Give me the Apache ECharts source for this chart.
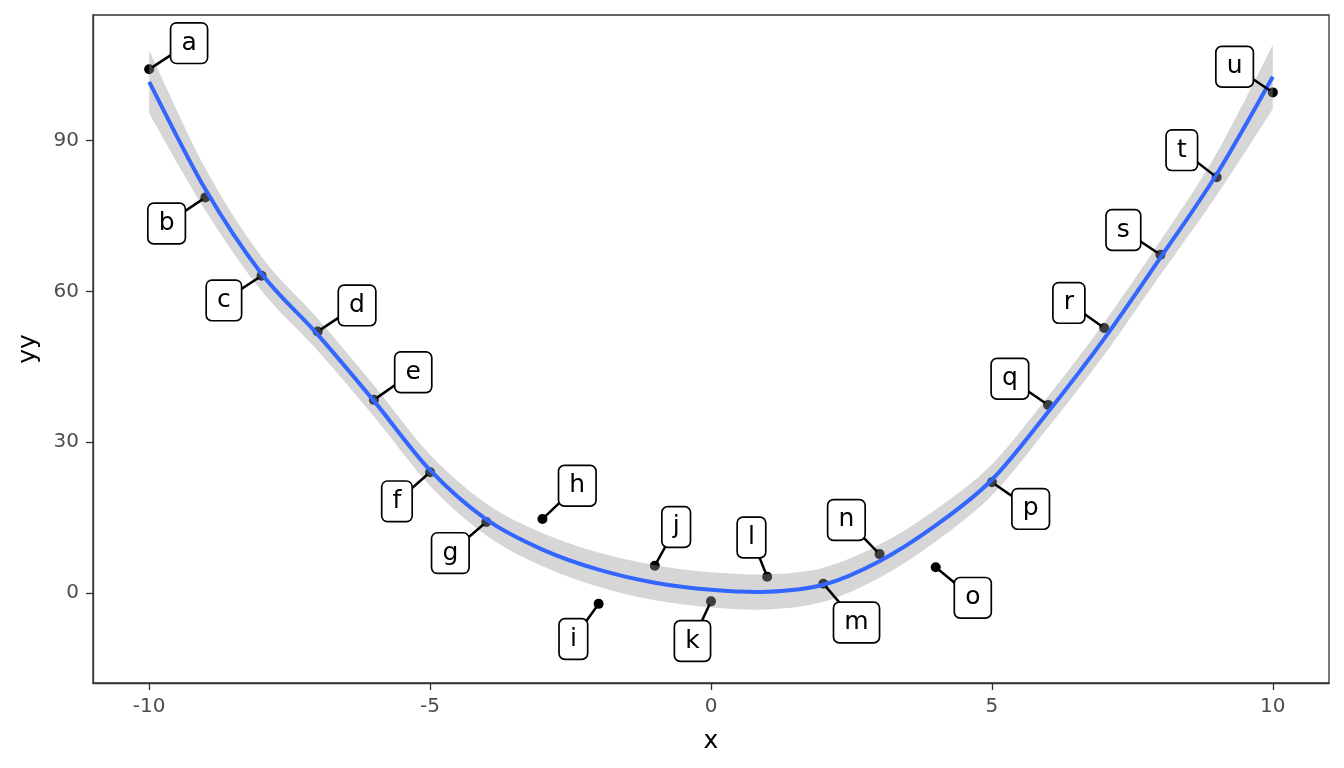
<!DOCTYPE html>
<html>
<head>
<meta charset="utf-8">
<script src="https://cdn.jsdelivr.net/npm/echarts@6/dist/echarts.min.js"></script>
<style>
html,body{margin:0;padding:0;background:#fff;}
#c{width:1344px;height:768px;}
</style>
</head>
<body>
<div id="c"></div>
<script>
// ---- data ----
const pointX = [-10,-9,-8,-7,-6,-5,-4,-3,-2,-1,0,1,2,3,4,5,6,7,8,9,10];
const pointY = [104.2,78.7,63.1,52.0,38.4,24.0,14.1,14.7,-2.2,5.4,-1.7,3.2,1.8,7.7,5.1,22.0,37.4,52.7,67.3,82.7,99.6];
const labelNames = ['a','b','c','d','e','f','g','h','i','j','k','l','m','n','o','p','q','r','s','t','u'];
// label box centres (data units), as placed in the reference
const labelX = [-9.29,-9.69,-8.67,-6.30,-5.30,-5.59,-4.64,-2.38,-2.45,-0.62,-0.33,0.72,2.59,2.41,4.66,5.69,5.32,6.37,7.34,8.38,9.32];
const labelY = [109.4,73.5,58.2,57.2,43.9,18.2,7.9,21.3,-9.2,13.1,-9.6,11.0,-5.9,14.5,-1.0,16.7,42.6,57.7,72.2,88.1,104.7];
// smoothed fit and its confidence band
const fitY     = [101.7,80.3,63.5,51.4,38.2,24.4,14.6,8.6,4.6,2.0,0.6,0.2,1.6,6.3,13.4,22.5,36.0,50.6,66.7,83.3,102.7];
const bandLow  = [95.4,76.1,60.1,48.2,35.1,21.3,11.4,5.3,1.2,-1.5,-2.9,-3.3,-1.8,3.0,10.2,19.4,32.9,47.4,63.3,79.1,96.3];
const bandHigh = [108.0,84.5,66.9,54.6,41.3,27.5,17.8,11.9,8.0,5.5,4.1,3.7,5.0,9.6,16.6,25.6,39.1,53.8,70.1,87.5,109.1];
const xTicks = [-10,-5,0,5,10];
const yTicks = [0,30,60,90];

const FONT = 'DejaVu Sans';
const chart = echarts.init(document.getElementById('c'), null, {renderer:'canvas'});

const pts = pointX.map((x,i)=>[x, pointY[i]]);
const lab = pointX.map((x,i)=>[labelX[i], labelY[i], x, pointY[i], i]);

// Catmull-Rom -> cubic bezier segments (pixel space)
function crSegs(p){
  let s='';
  for(let i=0;i<p.length-1;i++){
    const p0=p[Math.max(i-1,0)], p1=p[i], p2=p[i+1], p3=p[Math.min(i+2,p.length-1)];
    const c1=[p1[0]+(p2[0]-p0[0])/6, p1[1]+(p2[1]-p0[1])/6];
    const c2=[p2[0]-(p3[0]-p1[0])/6, p2[1]-(p3[1]-p1[1])/6];
    s+=' C'+c1[0]+' '+c1[1]+' '+c2[0]+' '+c2[1]+' '+p2[0]+' '+p2[1];
  }
  return s;
}

chart.setOption({
  animation:false,
  backgroundColor:'#fff',
  grid:{left:93, right:15, top:15, bottom:85, show:true, borderColor:'#333333', borderWidth:1.3, backgroundColor:'transparent'},
  xAxis:{
    type:'value', min:-11, max:11,
    name:'x', nameLocation:'middle', nameGap:46,
    nameTextStyle:{fontFamily:FONT, fontSize:25, color:'#000'},
    axisLine:{show:true, onZero:false, lineStyle:{color:'#333333', width:1.3}},
    axisTick:{show:true, length:7, lineStyle:{color:'#333333', width:1.3}, customValues:xTicks},
    axisLabel:{fontFamily:FONT, fontSize:20, color:'#4D4D4D', margin:14, customValues:xTicks},
    splitLine:{show:false}
  },
  yAxis:{
    type:'value', min:-17.95, max:115,
    name:'yy', nameLocation:'middle', nameGap:52, nameRotate:90,
    nameTextStyle:{fontFamily:FONT, fontSize:25, color:'#000'},
    axisLine:{show:true, onZero:false, lineStyle:{color:'#333333', width:1.3}},
    axisTick:{show:true, length:7, lineStyle:{color:'#333333', width:1.3}, customValues:yTicks},
    axisLabel:{fontFamily:FONT, fontSize:20, color:'#4D4D4D', margin:14, customValues:yTicks},
    splitLine:{show:false}
  },
  series:[
    {type:'scatter', data:pts, symbolSize:10, itemStyle:{color:'#000', opacity:1}, z:2, silent:true},
    {type:'custom', data:[[0,0]], z:3, silent:true,
     renderItem:function(params, api){
       const up = pointX.map((x,i)=>api.coord([x, bandHigh[i]]));
       const lo = pointX.map((x,i)=>api.coord([x, bandLow[i]])).reverse();
       const d = 'M'+up[0][0]+' '+up[0][1]+crSegs(up)+' L'+lo[0][0]+' '+lo[0][1]+crSegs(lo)+' Z';
       return {type:'path', shape:{pathData:d}, style:{fill:'rgba(153,153,153,0.4)', stroke:null}};
     }},
    {type:'custom', data:[[0,0]], z:4, silent:true,
     renderItem:function(params, api){
       const f = pointX.map((x,i)=>api.coord([x, fitY[i]]));
       const d = 'M'+f[0][0]+' '+f[0][1]+crSegs(f);
       return {type:'path', shape:{pathData:d}, style:{fill:null, stroke:'#3366FF', lineWidth:4, lineJoin:'round'}};
     }},
    {type:'custom', data:lab, z:5, silent:true, encode:{x:[0,2], y:[1,3]},
     renderItem:function(params, api){
       const q = api.coord([api.value(0), api.value(1)]);
       const p = api.coord([api.value(2), api.value(3)]);
       const idx = api.value(4);
       const dx=q[0]-p[0], dy=q[1]-p[1], d=Math.hypot(dx,dy)||1;
       const r=3.5;
       return {type:'group', children:[
         {type:'line', shape:{x1:p[0]+dx/d*r, y1:p[1]+dy/d*r, x2:q[0], y2:q[1]},
          style:{stroke:'#000', lineWidth:2.5}},
         {type:'text', x:q[0], y:q[1],
          style:{text:labelNames[idx], fill:'#000', font:'25px "DejaVu Sans"',
                 align:'center', verticalAlign:'middle', lineHeight:25,
                 backgroundColor:'#fff', borderColor:'#000', borderWidth:1.7, borderRadius:5,
                 padding:[7,10]}}
       ]};
     }}
  ]
});
</script>
</body>
</html>
